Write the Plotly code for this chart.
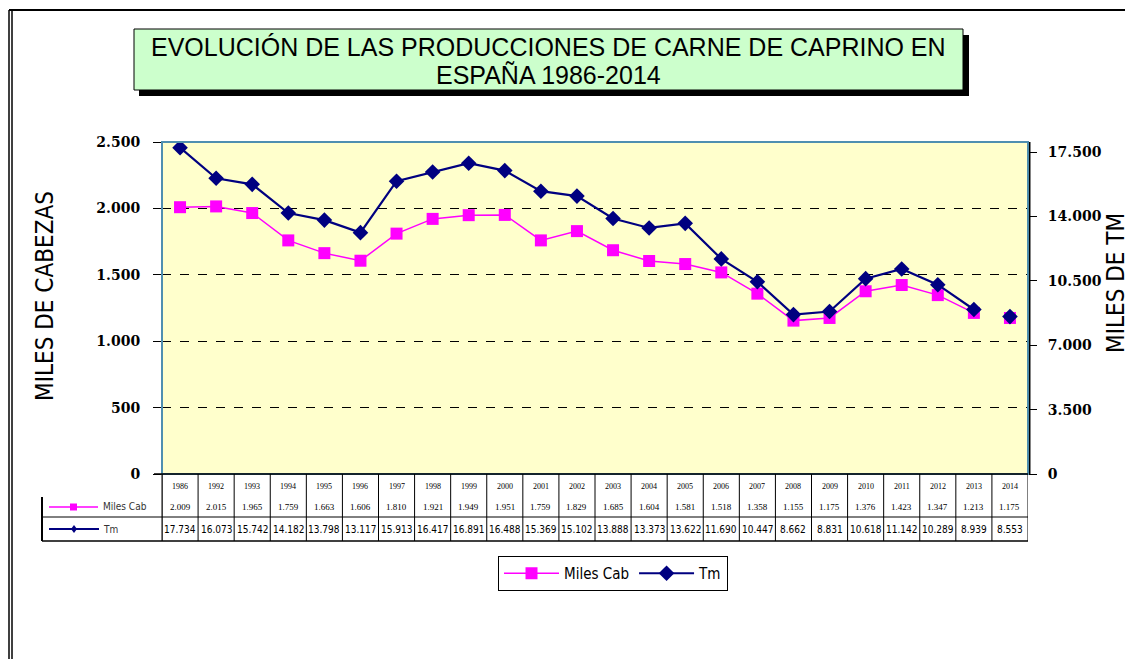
import plotly.graph_objects as go

years = ["1986", "1992", "1993", "1994", "1995", "1996", "1997", "1998", "1999", "2000",
         "2001", "2002", "2003", "2004", "2005", "2006", "2007", "2008", "2009", "2010",
         "2011", "2012", "2013", "2014"]
miles_cab = [2009, 2015, 1965, 1759, 1663, 1606, 1810, 1921, 1949, 1951,
             1759, 1829, 1685, 1604, 1581, 1518, 1358, 1155, 1175, 1376,
             1423, 1347, 1213, 1175]
tm = [17734, 16073, 15742, 14182, 13798, 13117, 15913, 16417, 16891, 16488,
      15369, 15102, 13888, 13373, 13622, 11690, 10447, 8662, 8831, 10618,
      11142, 10289, 8939, 8553]
left_ticks = [0, 500, 1000, 1500, 2000, 2500]
right_ticks = [0, 3500, 7000, 10500, 14000, 17500]

# the page body has an 8px margin; work in screen pixels and shift the figure
OFF = 8
SW, SH = 1133, 659
L, R, T, B = 162, 1028, 142, 474   # plot area in screen pixels
W, H = SW - OFF, SH - OFF
PW, PH = R - L, B - T


def px(x):
    return (x - L) / PW


def py(y):
    return (B - y) / PH


def fmt(v):
    return f"{v:,}".replace(",", ".")


def fmt3(v):
    return f"{v/1000:.3f}"


idx = list(range(len(years)))
PINK = "#FF00FF"
NAVY = "#000080"
NARROW = "Liberation Sans Narrow, DejaVu Sans Condensed, Arial Narrow, Liberation Sans, sans-serif"

fig = go.Figure()
fig.add_trace(go.Scatter(x=idx[:-1], y=miles_cab[:-1], mode="lines+markers", name="Miles Cab",
                         line=dict(color=PINK, width=1.5),
                         marker=dict(symbol="square", size=12, color=PINK)))
fig.add_trace(go.Scatter(x=idx[-1:], y=miles_cab[-1:], mode="markers", showlegend=False,
                         marker=dict(symbol="square", size=12, color=PINK)))
fig.add_trace(go.Scatter(x=idx[:-1], y=tm[:-1], mode="lines+markers", name="Tm", yaxis="y2",
                         line=dict(color=NAVY, width=2.2),
                         marker=dict(symbol="diamond", size=12, color=NAVY)))
fig.add_trace(go.Scatter(x=idx[-1:], y=tm[-1:], mode="markers", showlegend=False, yaxis="y2",
                         marker=dict(symbol="diamond", size=12, color=NAVY)))

tickfont = dict(family="DejaVu Serif", size=14, color="black", weight="bold")

shapes = []
annotations = []

# outer frame
shapes.append(dict(type="line", xref="paper", yref="paper", x0=px(9), x1=px(1133), y0=py(10), y1=py(10),
                   line=dict(color="black", width=2)))
shapes.append(dict(type="line", xref="paper", yref="paper", x0=px(9), x1=px(9), y0=py(10), y1=py(659),
                   line=dict(color="black", width=1.5)))
shapes.append(dict(type="line", xref="paper", yref="paper", x0=px(12), x1=px(12), y0=py(10), y1=py(659),
                   line=dict(color="black", width=1.5)))

# title box with shadow
shapes.append(dict(type="rect", xref="paper", yref="paper", x0=px(139), x1=px(969), y0=py(35), y1=py(96),
                   fillcolor="black", line=dict(width=0), layer="above"))
shapes.append(dict(type="rect", xref="paper", yref="paper", x0=px(134), x1=px(963), y0=py(29), y1=py(90),
                   fillcolor="#CCFFCC", line=dict(color="black", width=1), layer="above"))
tfont_title = dict(family="Liberation Sans", size=25, color="black")
annotations.append(dict(xref="paper", yref="paper", x=px(548), y=py(47), xanchor="center", yanchor="middle",
                        text="EVOLUCIÓN DE LAS PRODUCCIONES DE CARNE DE CAPRINO EN",
                        showarrow=False, font=tfont_title))
annotations.append(dict(xref="paper", yref="paper", x=px(548), y=py(75), xanchor="center", yanchor="middle",
                        text="ESPAÑA 1986-2014", showarrow=False, font=tfont_title))

# plot border
shapes.append(dict(type="rect", xref="paper", yref="paper", x0=0, x1=1, y0=0, y1=1,
                   line=dict(color="#4F8FB0", width=2), layer="above"))
shapes.append(dict(type="line", xref="paper", yref="paper", x0=1.002, x1=1.002, y0=0, y1=1,
                   line=dict(color="black", width=1.5), layer="above"))
shapes.append(dict(type="line", xref="paper", yref="paper", x0=px(154), x1=1, y0=0, y1=0,
                   line=dict(color="black", width=1.5), layer="above"))

# axis titles
annotations.append(dict(xref="paper", yref="paper", x=px(45), y=py(296), xanchor="center", yanchor="middle",
                        text="MILES DE CABEZAS", textangle=-90, showarrow=False,
                        font=dict(family=NARROW, size=24, color="black")))
annotations.append(dict(xref="paper", yref="paper", x=px(1116), y=py(283), xanchor="center", yanchor="middle",
                        text="MILES DE TM", textangle=-90, showarrow=False,
                        font=dict(family=NARROW, size=24, color="black")))

# data table
y_top, y_r2, y_bot = py(474), py(517), py(541)
for i in range(len(years) + 1):
    shapes.append(dict(type="line", xref="x", yref="paper", x0=i - 0.5, x1=i - 0.5, y0=y_top, y1=y_bot,
                       line=dict(color="black", width=1)))
shapes.append(dict(type="line", xref="paper", yref="paper", x0=px(42), x1=1, y0=y_r2, y1=y_r2,
                   line=dict(color="black", width=1)))
shapes.append(dict(type="line", xref="paper", yref="paper", x0=px(42), x1=1, y0=y_bot, y1=y_bot,
                   line=dict(color="black", width=1.5)))
shapes.append(dict(type="line", xref="paper", yref="paper", x0=px(42), x1=px(42), y0=py(497), y1=y_bot,
                   line=dict(color="black", width=2)))
shapes.append(dict(type="line", xref="paper", yref="paper", x0=px(162), x1=px(162), y0=y_top, y1=y_bot,
                   line=dict(color="black", width=1)))

tfont = dict(family="Liberation Serif", size=8, color="black")
vfont = dict(family="Liberation Serif", size=9, color="black")
for i, yr in enumerate(years):
    annotations.append(dict(xref="x", yref="paper", x=i, y=py(486), text=yr, showarrow=False,
                            xanchor="center", yanchor="middle", font=tfont))
    annotations.append(dict(xref="x", yref="paper", x=i, y=py(507), text=fmt3(miles_cab[i]), showarrow=False,
                            xanchor="center", yanchor="middle", font=vfont))
    annotations.append(dict(xref="x", yref="paper", x=i, y=py(529), text=fmt3(tm[i]), showarrow=False,
                            xanchor="center", yanchor="middle",
                            font=dict(family=NARROW, size=10, color="black")))

# legend keys inside table
shapes.append(dict(type="line", xref="paper", yref="paper", x0=px(49), x1=px(98), y0=py(507), y1=py(507),
                   line=dict(color=PINK, width=1.5)))
shapes.append(dict(type="rect", xref="paper", yref="paper", x0=px(70), x1=px(77), y0=py(503.5), y1=py(510.5),
                   fillcolor=PINK, line=dict(width=0)))
shapes.append(dict(type="line", xref="paper", yref="paper", x0=px(49), x1=px(99), y0=py(529), y1=py(529),
                   line=dict(color=NAVY, width=2)))
shapes.append(dict(type="path", xref="paper", yref="paper",
                   path=f"M {px(74)},{py(525)} L {px(77)},{py(529)} L {px(74)},{py(533)} L {px(71)},{py(529)} Z",
                   fillcolor=NAVY, line=dict(width=0)))
annotations.append(dict(xref="paper", yref="paper", x=px(101), y=py(507), text="Miles Cab", showarrow=False,
                        xanchor="left", yanchor="middle", font=dict(family=NARROW, size=10, color="#333333")))
annotations.append(dict(xref="paper", yref="paper", x=px(101), y=py(529), text="Tm", showarrow=False,
                        xanchor="left", yanchor="middle", font=dict(family=NARROW, size=10, color="#333333")))

fig.update_layout(
    width=W, height=H,
    margin=dict(l=L - OFF, r=W - (R - OFF), t=T - OFF, b=H - (B - OFF), pad=0),
    paper_bgcolor="white",
    plot_bgcolor="#FFFFCC",
    separators=",.",
    showlegend=True,
    legend=dict(orientation="h", x=px(498), y=py(556), xanchor="left", yanchor="top",
                bordercolor="black", borderwidth=1, bgcolor="white",
                font=dict(family=NARROW, size=15, color="black"),
                itemwidth=55),
    xaxis=dict(range=[-0.5, len(years) - 0.5], showticklabels=False, showgrid=False, zeroline=False,
               ticks="", showline=False),
    yaxis=dict(range=[0, 2500], tickvals=left_ticks, ticktext=[fmt(v) for v in left_ticks],
               ticks="outside", ticklen=8, tickcolor="black", tickfont=tickfont, ticklabelstandoff=10,
               showgrid=True, gridcolor="black", gridwidth=1, griddash="dash", zeroline=False,
               showline=False),
    yaxis2=dict(range=[0, 17500 * PH / 322], overlaying="y", side="right", tickvals=right_ticks,
                ticktext=[fmt(v) for v in right_ticks], ticks="outside", ticklen=8, tickcolor="black",
                tickfont=tickfont, ticklabelstandoff=8, showgrid=False, zeroline=False, showline=False),
    shapes=shapes,
    annotations=annotations,
)

fig.write_html("out.html")
